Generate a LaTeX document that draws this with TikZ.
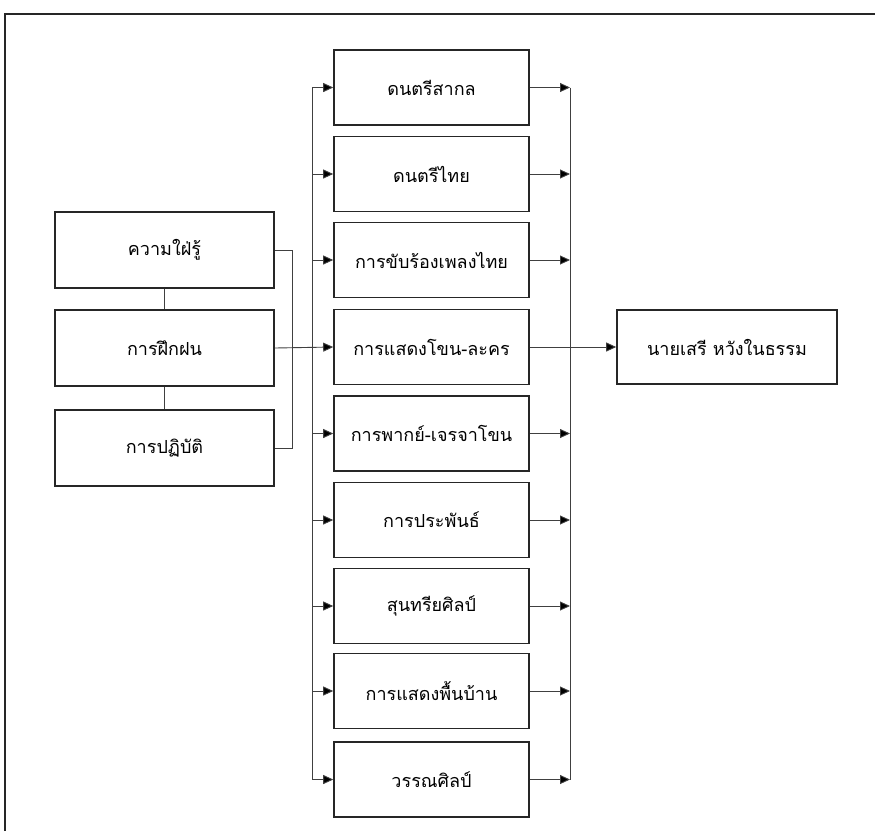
\documentclass[tikz,border=0pt]{standalone}
\usepackage{fontspec}
\newfontfamily\thaifont[Script=Thai]{Loma}
\usetikzlibrary{arrows.meta,calc}
\begin{document}
\begin{tikzpicture}[x=1pt,y=-1pt,
  box/.style={draw=black!85, line width=1.6pt, fill=white, inner sep=0pt,
    font=\thaifont\fontsize{18}{21}\selectfont},
  mid/.style={box, minimum width=195pt, minimum height=75pt},
  lft/.style={box, minimum width=219pt, minimum height=76pt},
  conn/.style={draw=black!75, line width=0.9pt},
  arr/.style={conn, -{Triangle[length=10pt,width=9pt,fill=black]}}]
\useasboundingbox (0,0) rectangle (875,831);
\draw[line width=1.8pt, black!85] (5,831) -- (5,14) -- (875,14);

\node[mid] (m1) at (431.5,87.5) {ดนตรีสากล};
\node[mid] (m2) at (431.5,174) {ดนตรีไทย};
\node[mid] (m3) at (431.5,260) {การขับร้องเพลงไทย};
\node[mid] (m4) at (431.5,347) {การแสดงโขน-ละคร};
\node[mid] (m5) at (431.5,433.5) {การพากย์-เจรจาโขน};
\node[mid] (m6) at (431.5,520) {การประพันธ์};
\node[mid] (m7) at (431.5,606) {สุนทรียศิลป์};
\node[mid] (m8) at (431.5,691) {การแสดงพื้นบ้าน};
\node[mid] (m9) at (431.5,779.5) {วรรณศิลป์};

\node[lft] (a) at (164.5,250) {ความใฝ่รู้};
\node[lft] (b) at (164.5,348) {การฝึกฝน};
\node[lft] (c) at (164.5,448) {การปฏิบัติ};

\node[box, minimum width=220pt, minimum height=74pt] (f) at (727,347) {นายเสรี หวังในธรรม};

\coordinate (lbus) at (312,0);
\coordinate (rbus) at (570,0);
\coordinate (brk) at (292,0);

% left bus
\draw[conn] (lbus |- m1.west) -- (lbus |- m9.west);
\foreach \i in {1,2,3,5,6,7,8,9}
  \draw[arr] (lbus |- m\i.west) -- (m\i.west);
% right bus
\draw[conn] (rbus |- m1.east) -- (rbus |- m9.east);
\foreach \i in {1,2,3,5,6,7,8,9}
  \draw[arr] (m\i.east) -- (rbus |- m\i.east);

% left column links
\draw[conn] (a.south) -- (b.north);
\draw[conn] (b.south) -- (c.north);
\draw[conn] (a.east) -- (brk |- a.east) -- (brk |- c.east) -- (c.east);
\draw[arr] (b.east) -- (m4.west);
\draw[arr] (m4.east) -- (f.west);
\end{tikzpicture}
\end{document}
